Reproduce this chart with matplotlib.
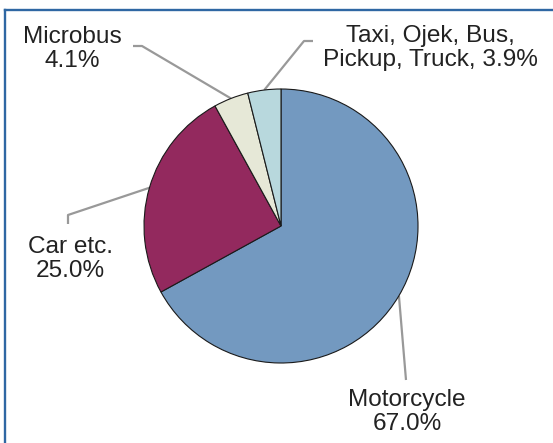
import matplotlib
matplotlib.use("Agg")
import matplotlib.pyplot as plt
import numpy as np

# share of vehicles (%)
names = ["Motorcycle", "Car etc.", "Microbus", "Taxi, Ojek, Bus,\nPickup, Truck,"]
shares = [67.0, 25.0, 4.1, 3.9]
joiners = ["\n", "\n", "\n", " "]

colors = ["#7399c0", "#93295e", "#e6e8d7", "#b8d8dd"]

# layout in figure pixels (pie centre, radius)
W, H, DPI = 553, 443, 100
CX, CY, R = 281, 226, 137
# leader elbows / ends and label centres, in pixels
leaders = [
    [(406, 380)],
    [(68, 215), (68, 224)],
    [(142, 46), (133, 46)],
    [(304, 41), (313, 41)],
]
label_pos = [(407, 412), (70, 259), (72, 49), (430, 48)]


def to_data(px, py):
    return (px - CX) / R, (CY - py) / R


plt.rcParams["font.family"] = ["Liberation Sans", "DejaVu Sans"]

fig = plt.figure(figsize=(W / DPI, H / DPI), dpi=DPI)
ax = fig.add_axes([0, 0, 1, 1])
x0, y1 = to_data(0, 0)
x1, y0 = to_data(W, H)

wedges, _ = ax.pie(shares, colors=colors, startangle=90, counterclock=False,
                   radius=1.0, center=(0, 0), frame=True,
                   wedgeprops=dict(edgecolor="#1a1a1a", linewidth=0.8))
ax.set_xlim(x0, x1)
ax.set_ylim(y0, y1)
ax.axis("off")

for w, name, j, val, pts, (tx, ty) in zip(wedges, names, joiners, shares,
                                           leaders, label_pos):
    mid = np.deg2rad((w.theta1 + w.theta2) / 2)
    xs = [np.cos(mid)]
    ys = [np.sin(mid)]
    for p in pts:
        dx, dy = to_data(*p)
        xs.append(dx)
        ys.append(dy)
    ax.plot(xs, ys, color="#999999", lw=1.6, solid_capstyle="butt", zorder=0.5)
    lx, ly = to_data(tx, ty)
    ax.text(lx, ly, f"{name}{j}{val:.1f}%", ha="center", va="center",
            fontsize=17.6, color="#222222", linespacing=1.15)

# frame lines (left and top) of the original box
fig.add_artist(plt.Line2D([4.5 / W, 4.5 / W], [0, 1 - 9.5 / H],
                          transform=fig.transFigure, color="#2f67a3", lw=1.7))
fig.add_artist(plt.Line2D([4.5 / W, 1], [1 - 9.5 / H, 1 - 9.5 / H],
                          transform=fig.transFigure, color="#2f67a3", lw=1.7))

fig.savefig("out.png", dpi=DPI)
